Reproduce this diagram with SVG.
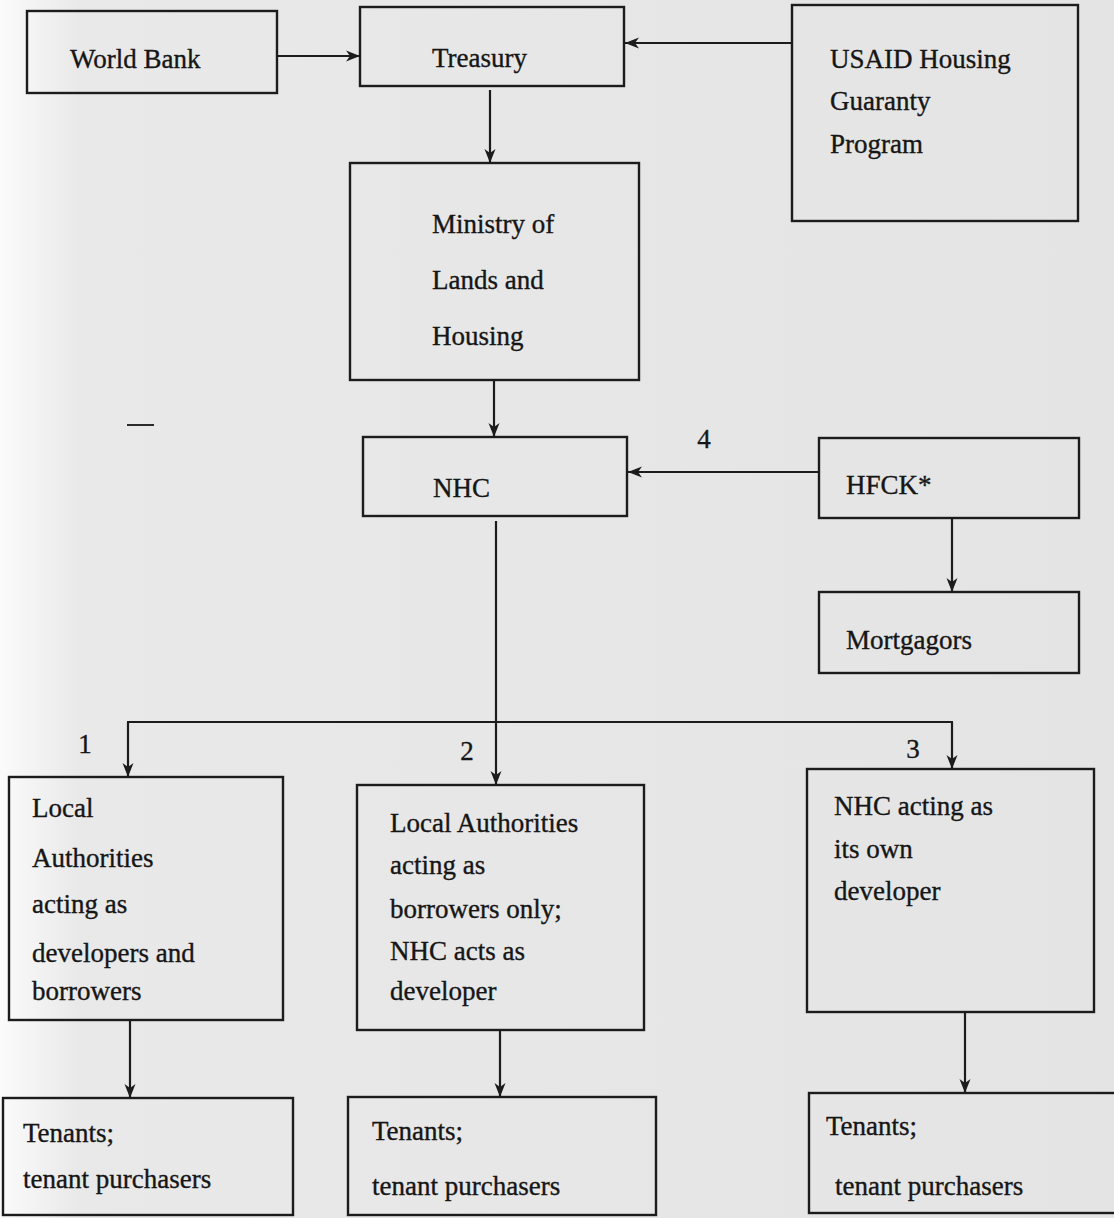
<svg xmlns="http://www.w3.org/2000/svg" width="1114" height="1218" viewBox="0 0 1114 1218">
<style>
.box{fill:none;stroke:#1c1c1c;stroke-width:2.4}
.lbl{font-family:"Liberation Serif","Times New Roman",serif;font-size:27px;fill:#161616;stroke:#161616;stroke-width:0.35}
.con{fill:none;stroke:#1c1c1c;stroke-width:2.2}
</style>
<defs>
<linearGradient id="bg" x1="0" y1="0" x2="1" y2="0">
<stop offset="0" stop-color="#fbfbfb"/>
<stop offset="0.07" stop-color="#e9e9e9"/>
<stop offset="1" stop-color="#e4e4e4"/>
</linearGradient>
<marker id="ah" markerUnits="userSpaceOnUse" markerWidth="16" markerHeight="12" refX="14" refY="6" orient="auto">
<path d="M0,0.5 L14,6 L0,11.5 L4,6 Z" fill="#1c1c1c"/>
</marker>
</defs>
<rect x="0" y="0" width="1114" height="1218" fill="url(#bg)"/>
<line x1="127" y1="425" x2="154" y2="425" stroke="#2a2a2a" stroke-width="2"/>

<g id="connectors">
<line class="con" x1="277" y1="56" x2="360" y2="56" marker-end="url(#ah)"/>
<line class="con" x1="792" y1="43" x2="625" y2="43" marker-end="url(#ah)"/>
<line class="con" x1="490" y1="90" x2="490" y2="163" marker-end="url(#ah)"/>
<line class="con" x1="494" y1="380" x2="494" y2="437" marker-end="url(#ah)"/>
<line class="con" x1="819" y1="472" x2="628" y2="472" marker-end="url(#ah)"/>
<line class="con" x1="952" y1="518" x2="952" y2="592" marker-end="url(#ah)"/>
<line class="con" x1="496" y1="521" x2="496" y2="785" marker-end="url(#ah)"/>
<line class="con" x1="127" y1="722" x2="953" y2="722"/>
<line class="con" x1="128" y1="722" x2="128" y2="777" marker-end="url(#ah)"/>
<line class="con" x1="952" y1="722" x2="952" y2="769" marker-end="url(#ah)"/>
<line class="con" x1="130" y1="1020" x2="130" y2="1098" marker-end="url(#ah)"/>
<line class="con" x1="500" y1="1030" x2="500" y2="1097" marker-end="url(#ah)"/>
<line class="con" x1="965" y1="1012" x2="965" y2="1093" marker-end="url(#ah)"/>
<text class="lbl" x="85" y="753" text-anchor="middle">1</text>
<text class="lbl" x="467" y="760" text-anchor="middle">2</text>
<text class="lbl" x="913" y="758" text-anchor="middle">3</text>
<text class="lbl" x="704" y="448" text-anchor="middle">4</text>
</g>

<g id="worldbank"><rect class="box" x="27" y="11" width="250" height="82"/><text class="lbl" x="70" y="68">World Bank</text></g>
<g id="treasury"><rect class="box" x="360" y="7" width="264" height="79"/><text class="lbl" x="432" y="67">Treasury</text></g>
<g id="usaid"><rect class="box" x="792" y="5" width="286" height="216"/>
<text class="lbl" x="830" y="68">USAID Housing</text><text class="lbl" x="830" y="110">Guaranty</text><text class="lbl" x="830" y="153">Program</text></g>
<g id="ministry"><rect class="box" x="350" y="163" width="289" height="217"/>
<text class="lbl" x="432" y="233">Ministry of</text><text class="lbl" x="432" y="289">Lands and</text><text class="lbl" x="432" y="345">Housing</text></g>
<g id="nhc"><rect class="box" x="363" y="437" width="264" height="79"/><text class="lbl" x="433" y="497">NHC</text></g>
<g id="hfck"><rect class="box" x="819" y="438" width="260" height="80"/><text class="lbl" x="846" y="494">HFCK*</text></g>
<g id="mortgagors"><rect class="box" x="819" y="592" width="260" height="81"/><text class="lbl" x="846" y="649">Mortgagors</text></g>
<g id="option1"><rect class="box" x="9" y="777" width="274" height="243"/>
<text class="lbl" x="32" y="817">Local</text><text class="lbl" x="32" y="867">Authorities</text><text class="lbl" x="32" y="913">acting as</text><text class="lbl" x="32" y="962">developers and</text><text class="lbl" x="32" y="1000">borrowers</text></g>
<g id="option2"><rect class="box" x="357" y="785" width="287" height="245"/>
<text class="lbl" x="390" y="832">Local Authorities</text><text class="lbl" x="390" y="874">acting as</text><text class="lbl" x="390" y="918">borrowers only;</text><text class="lbl" x="390" y="960">NHC acts as</text><text class="lbl" x="390" y="1000">developer</text></g>
<g id="option3"><rect class="box" x="807" y="769" width="287" height="243"/>
<text class="lbl" x="834" y="815">NHC acting as</text><text class="lbl" x="834" y="858">its own</text><text class="lbl" x="834" y="900">developer</text></g>
<g id="tenants1"><rect class="box" x="3" y="1098" width="290" height="117"/>
<text class="lbl" x="23" y="1142">Tenants;</text><text class="lbl" x="23" y="1188">tenant purchasers</text></g>
<g id="tenants2"><rect class="box" x="348" y="1097" width="308" height="118"/>
<text class="lbl" x="372" y="1140">Tenants;</text><text class="lbl" x="372" y="1195">tenant purchasers</text></g>
<g id="tenants3"><rect class="box" x="809" y="1093" width="320" height="120"/>
<text class="lbl" x="826" y="1135">Tenants;</text><text class="lbl" x="835" y="1195">tenant purchasers</text></g>
</svg>
